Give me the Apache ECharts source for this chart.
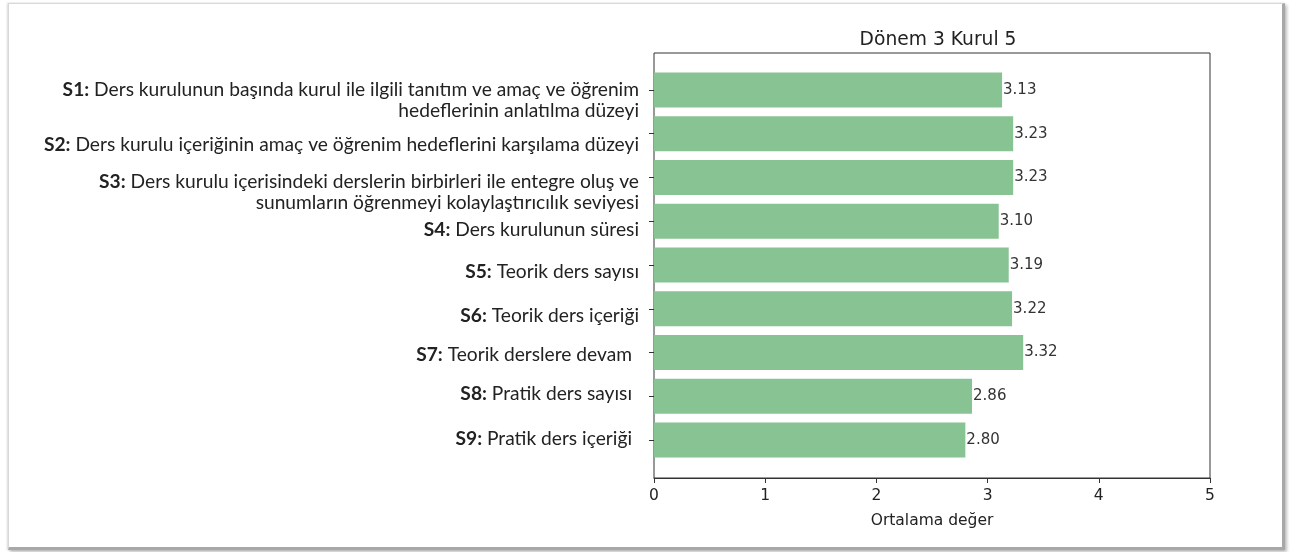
<!DOCTYPE html>
<html>
<head>
<meta charset="utf-8">
<script src="https://cdn.jsdelivr.net/npm/echarts@6/dist/echarts.min.js"></script>
<style>
  html, body { margin: 0; padding: 0; background: #ffffff; }
  #frame { position: absolute; left: 8px; top: 3px; width: 1273px; height: 543px;
           border: 1px solid #d8d8d8; border-right: 3px solid #a8a8a8; border-bottom: 3px solid #a8a8a8;
           box-shadow: 2px 2px 3px rgba(0,0,0,0.25), -1px 0 2px rgba(0,0,0,0.15); background: #fff; }
  #chart { position: absolute; left: 0; top: 0; width: 1291px; height: 552px; }
</style>
</head>
<body>
<div id="frame"></div>
<div id="chart"></div>
<script>
const codes = ['S1:', 'S2:', 'S3:', 'S4:', 'S5:', 'S6:', 'S7:', 'S8:', 'S9:'];
const questions = [
  'Ders kurulunun başında kurul ile ilgili tanıtım ve amaç ve öğrenim\nhedeflerinin anlatılma düzeyi',
  'Ders kurulu içeriğinin amaç ve öğrenim hedeflerini karşılama düzeyi',
  'Ders kurulu içerisindeki derslerin birbirleri ile entegre oluş ve\nsunumların öğrenmeyi kolaylaştırıcılık seviyesi',
  'Ders kurulunun süresi',
  'Teorik ders sayısı',
  'Teorik ders içeriği',
  'Teorik derslere devam',
  'Pratik ders sayısı',
  'Pratik ders içeriği'
];
const values = [3.13, 3.23, 3.23, 3.10, 3.19, 3.22, 3.32, 2.86, 2.80];
const xTicks = [0, 1, 2, 3, 4, 5];
const chartTitle = 'Dönem 3 Kurul 5';
const xAxisName = 'Ortalama değer';

// label placement tweaks (style only): padding [top, right, bottom, left]
const labelPad = [[21,0,0,0],[23,0,0,0],[29,0,0,0],[18,0,0,0],[13,0,0,0],[15,0,0,0],[4,7,0,0],[0,7,5,0],[0,7,2,0]];

const cats = codes.map((c, i) => ({
  value: c + '|' + questions[i],
  textStyle: { padding: labelPad[i] }
}));

const tickFont = { fontFamily: 'DejaVu Sans', fontSize: 15.5, color: '#222' };

const chart = echarts.init(document.getElementById('chart'), null, { renderer: 'canvas' });
chart.setOption({
  animation: false,
  backgroundColor: 'transparent',
  title: {
    text: chartTitle, left: 933, top: 26, textAlign: 'center',
    textStyle: { fontFamily: 'DejaVu Sans', fontSize: 18.7, fontWeight: 'normal', color: '#222' }
  },
  grid: [
    { left: 654, right: 81, top: 53, bottom: 74, show: true, borderColor: '#333', borderWidth: 1, backgroundColor: 'transparent' },
    { left: 654, right: 81, top: 68, bottom: 90 }
  ],
  xAxis: [{
    gridIndex: 0, type: 'value', min: 0, max: 5, interval: 1,
    name: xAxisName, nameLocation: 'middle', nameGap: 35,
    nameTextStyle: tickFont,
    axisLine: { show: true, lineStyle: { color: '#333', width: 1 } },
    axisTick: { show: true, length: 5, lineStyle: { color: '#333' } },
    axisLabel: Object.assign({ margin: 10, formatter: v => xTicks.includes(v) ? String(v) : '' }, tickFont),
    splitLine: { show: false }
  }, {
    gridIndex: 1, type: 'value', min: 0, max: 5, interval: 1, show: false, splitLine: { show: false }
  }],
  yAxis: [{
    gridIndex: 0, type: 'value', min: 0, max: 1, show: false, splitLine: { show: false }
  }, {
    gridIndex: 1, type: 'category', inverse: true,
    data: cats,
    axisLine: { show: false },
    axisTick: { show: true, alignWithLabel: true, length: 5, lineStyle: { color: '#333' } },
    axisLabel: {
      interval: 0, hideOverlap: false,
      margin: 15, align: 'right', fontFamily: 'Lato', fontSize: 19.2, color: '#222', lineHeight: 21,
      formatter: v => { const p = v.split('|'); return '{b|' + p[0] + '} ' + p[1]; },
      rich: { b: { fontFamily: 'Lato', fontWeight: 'bold', fontSize: 19.2, color: '#222', lineHeight: 21 } }
    }
  }],
  series: [{
    type: 'bar', xAxisIndex: 1, yAxisIndex: 1, data: values, barCategoryGap: '20%',
    itemStyle: { color: '#88c393' },
    label: { show: true, position: 'right', distance: 1, fontFamily: 'DejaVu Sans', fontSize: 15, color: '#333',
             formatter: p => p.value.toFixed(2) }
  }]
});
</script>
</body>
</html>
